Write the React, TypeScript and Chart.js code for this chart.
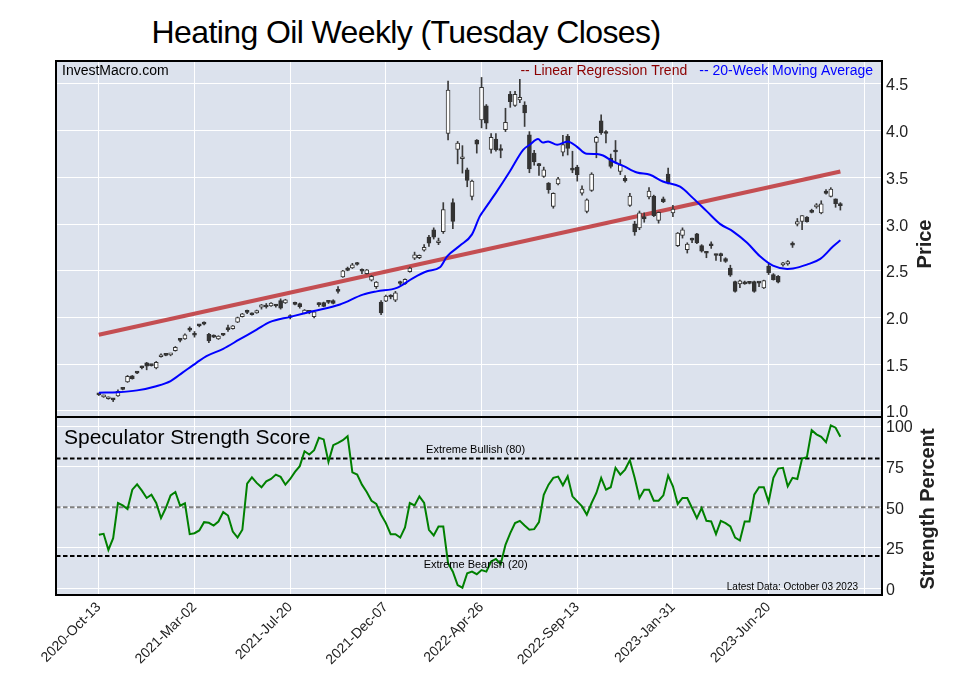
import React, { useEffect, useRef } from 'react';
import { Chart, registerables } from 'chart.js';

Chart.register(...registerables);

const FONT = '"Liberation Sans", Arial, sans-serif';

// ---- Axis labels ----
const dateLabels = ['2020-Oct-13', '2021-Mar-02', '2021-Jul-20', '2021-Dec-07', '2022-Apr-26', '2022-Sep-13', '2023-Jan-31', '2023-Jun-20', ''];
const tickWeeks = [0, 20, 40, 60, 80, 100, 120, 140, 160];
const priceTicks = [1.0, 1.5, 2.0, 2.5, 3.0, 3.5, 4.0, 4.5];
const strengthTicks = [0, 25, 50, 75, 100];

// ---- Weekly candles (week index 0 = 2020-Oct-13) ----
const opens = [
  1.18, 1.15, 1.13, 1.13, 1.16, 1.24, 1.31, 1.375, 1.415, 1.466,
  1.516, 1.49, 1.46, 1.58, 1.60, 1.60, 1.645, 1.765, 1.77, 1.885,
  1.815, 1.915, 1.94, 1.82, 1.81, 1.77, 1.82, 1.89, 1.88, 1.95,
  2.01, 2.058, 2.045, 2.05, 2.11, 2.117, 2.125, 2.127, 2.18, 2.157,
  2.0, 2.16, 2.15, 2.045, 2.058, 2.01, 2.142, 2.16, 2.166, 2.18,
  2.30, 2.435, 2.53, 2.53, 2.572, 2.51, 2.47, 2.40, 2.33, 2.166,
  2.175, 2.24, 2.185, 2.368, 2.36, 2.49, 2.635, 2.64, 2.72, 2.86,
  2.94, 2.80, 2.92, 3.97, 3.23, 3.80, 3.70, 3.58, 3.296, 3.90,
  4.115, 4.265, 3.80, 3.91, 3.792, 4.01, 4.39, 4.27, 4.33, 4.275,
  3.955, 3.76, 3.628, 3.51, 3.44, 3.19, 3.43, 3.77, 3.94, 3.582,
  3.61, 3.33, 3.136, 3.36, 3.875, 4.105, 3.975, 3.706, 3.776, 3.563,
  3.49, 3.20, 3.004, 2.958, 3.08, 3.29, 3.30, 3.04, 3.27, 3.535,
  3.12, 2.77, 2.88, 2.727, 2.832, 2.897, 2.77, 2.692, 2.772, 2.668,
  2.684, 2.63, 2.53, 2.385, 2.36, 2.38, 2.369, 2.385, 2.372, 2.317,
  2.55, 2.46, 2.44, 2.563, 2.574, 2.779, 3.0, 3.03, 3.075, 3.143,
  3.183, 3.12, 3.354, 3.296, 3.27, 3.22,
];
const highs = [
  1.185, 1.17, 1.15, 1.135, 1.225, 1.245, 1.38, 1.38, 1.425, 1.48,
  1.52, 1.495, 1.53, 1.61, 1.605, 1.61, 1.69, 1.77, 1.825, 1.90,
  1.85, 1.925, 1.955, 1.83, 1.815, 1.805, 1.825, 1.92, 1.915, 2.005,
  2.045, 2.08, 2.05, 2.08, 2.14, 2.15, 2.16, 2.14, 2.20, 2.195,
  2.03, 2.165, 2.155, 2.085, 2.07, 2.065, 2.16, 2.165, 2.18, 2.19,
  2.33, 2.505, 2.54, 2.58, 2.59, 2.52, 2.515, 2.45, 2.385, 2.18,
  2.24, 2.245, 2.28, 2.39, 2.415, 2.54, 2.70, 2.67, 2.78, 2.88,
  2.96, 2.85, 3.23, 4.53, 3.27, 3.885, 3.84, 3.60, 3.47, 3.905,
  4.57, 4.28, 3.97, 3.97, 3.85, 4.24, 4.42, 4.42, 4.55, 4.31,
  3.99, 3.79, 3.65, 3.61, 3.445, 3.335, 3.50, 3.95, 3.96, 3.78,
  3.63, 3.41, 3.27, 3.55, 3.94, 4.17, 4.0, 3.75, 3.895, 3.69,
  3.52, 3.33, 3.03, 3.14, 3.12, 3.39, 3.31, 3.13, 3.29, 3.60,
  3.20, 2.91, 2.96, 2.80, 2.85, 2.90, 2.78, 2.70, 2.81, 2.68,
  2.69, 2.64, 2.56, 2.39, 2.40, 2.39, 2.38, 2.39, 2.38, 2.40,
  2.57, 2.47, 2.45, 2.59, 2.61, 2.81, 3.06, 3.09, 3.08, 3.16,
  3.22, 3.25, 3.37, 3.39, 3.27, 3.23,
];
const lows = [
  1.165, 1.145, 1.125, 1.10, 1.155, 1.225, 1.305, 1.34, 1.40, 1.45,
  1.44, 1.48, 1.45, 1.575, 1.59, 1.59, 1.64, 1.74, 1.765, 1.85,
  1.79, 1.90, 1.92, 1.73, 1.785, 1.765, 1.805, 1.85, 1.875, 1.945,
  2.005, 2.04, 2.025, 2.045, 2.09, 2.10, 2.12, 2.11, 2.09, 2.15,
  1.985, 2.135, 2.10, 2.04, 2.04, 1.995, 2.12, 2.115, 2.15, 2.145,
  2.26, 2.43, 2.50, 2.525, 2.56, 2.47, 2.465, 2.39, 2.31, 2.03,
  2.17, 2.20, 2.17, 2.35, 2.355, 2.485, 2.62, 2.63, 2.71, 2.76,
  2.84, 2.78, 2.90, 3.90, 2.95, 3.645, 3.546, 3.40, 3.26, 3.76,
  4.03, 4.02, 3.76, 3.78, 3.71, 3.99, 4.25, 4.26, 4.30, 4.045,
  3.55, 3.63, 3.52, 3.50, 3.33, 3.17, 3.42, 3.73, 3.74, 3.55,
  3.46, 3.31, 3.12, 3.35, 3.71, 3.96, 3.87, 3.60, 3.67, 3.53,
  3.45, 3.19, 2.88, 2.94, 3.02, 3.27, 3.08, 3.01, 3.23, 3.43,
  3.08, 2.76, 2.85, 2.69, 2.80, 2.79, 2.70, 2.64, 2.74, 2.61,
  2.60, 2.59, 2.44, 2.27, 2.32, 2.355, 2.36, 2.27, 2.33, 2.31,
  2.46, 2.40, 2.37, 2.55, 2.56, 2.75, 2.98, 2.94, 3.02, 3.12,
  3.17, 3.11, 3.32, 3.29, 3.18, 3.15,
];
const closes = [
  1.172, 1.165, 1.145, 1.118, 1.21, 1.23, 1.37, 1.345, 1.405, 1.462,
  1.48, 1.485, 1.52, 1.60, 1.595, 1.60, 1.68, 1.755, 1.815, 1.865,
  1.81, 1.91, 1.93, 1.75, 1.79, 1.80, 1.81, 1.87, 1.91, 2.00,
  2.04, 2.055, 2.03, 2.075, 2.135, 2.113, 2.155, 2.123, 2.10, 2.19,
  2.01, 2.14, 2.115, 2.08, 2.055, 2.06, 2.138, 2.12, 2.162, 2.15,
  2.28, 2.50, 2.505, 2.563, 2.568, 2.495, 2.51, 2.44, 2.38, 2.05,
  2.23, 2.22, 2.265, 2.364, 2.41, 2.53, 2.67, 2.665, 2.75, 2.795,
  2.86, 2.82, 3.155, 4.435, 3.03, 3.866, 3.72, 3.467, 3.46, 3.855,
  4.465, 4.08, 3.93, 3.795, 3.788, 4.09, 4.31, 4.39, 4.357, 4.19,
  3.59, 3.665, 3.626, 3.58, 3.368, 3.33, 3.485, 3.85, 3.81, 3.578,
  3.53, 3.375, 3.26, 3.535, 3.93, 3.98, 3.97, 3.617, 3.772, 3.635,
  3.463, 3.30, 2.915, 3.12, 3.055, 3.354, 3.09, 3.125, 3.24, 3.44,
  3.16, 2.905, 2.94, 2.787, 2.828, 2.798, 2.71, 2.688, 2.768, 2.664,
  2.662, 2.60, 2.452, 2.28, 2.392, 2.36, 2.365, 2.28, 2.368, 2.395,
  2.48, 2.406, 2.378, 2.584, 2.60, 2.775, 3.026, 3.09, 3.026, 3.125,
  3.207, 3.218, 3.328, 3.375, 3.22, 3.196,
];

// ---- 20-week moving average (read at these week positions) ----
const maWeeks = [0, 4, 8, 12, 15, 17.5, 20.4, 22.5, 26, 29.4, 33, 35.7, 40, 44.7, 50.4, 55.2, 58.1, 62.3, 65.6, 68.6, 71.3, 72.8, 75.5, 78, 79.6, 80.3, 83.2, 85.9, 88.7, 90.1, 91.8, 92.8, 93.9, 95.8, 98, 99.9, 102, 104.1, 105.4, 107.5, 109.6, 112.5, 115.2, 117.9, 121.5, 124.2, 127.1, 129.9, 132.6, 135.5, 138.2, 140.9, 143.9, 145.1, 148, 150.8, 153.5, 155];
const maValues = [1.195, 1.2, 1.22, 1.265, 1.32, 1.41, 1.515, 1.587, 1.665, 1.765, 1.87, 1.95, 2.007, 2.067, 2.14, 2.245, 2.28, 2.317, 2.42, 2.495, 2.537, 2.655, 2.77, 2.89, 3.08, 3.135, 3.35, 3.563, 3.795, 3.85, 3.91, 3.873, 3.885, 3.85, 3.885, 3.83, 3.752, 3.75, 3.734, 3.67, 3.624, 3.552, 3.528, 3.456, 3.4, 3.278, 3.136, 3.0, 2.92, 2.8, 2.655, 2.555, 2.52, 2.524, 2.566, 2.627, 2.762, 2.826];

// ---- Linear regression trend ----
const trendWeeks = [0, 155];
const trendValues = [1.815, 3.563];

// ---- Speculator strength score ----
const strength = [
  33.0, 33.6, 23.7, 30.9, 52.6, 51.1, 48.9, 60.8, 64.1, 60.2,
  55.7, 57.7, 52.6, 43.3, 49.5, 57.3, 59.4, 50.9, 52.4, 33.4,
  34.0, 35.7, 40.8, 40.4, 38.7, 41.2, 47.0, 44.9, 35.0, 31.3,
  36.1, 64.5, 68.4, 65.0, 62.3, 66.0, 67.4, 70.1, 68.7, 63.9,
  67.4, 71.8, 75.3, 84.5, 82.5, 85.1, 92.8, 91.8, 78.0, 88.2,
  89.7, 91.3, 93.8, 71.5, 70.1, 63.9, 59.4, 54.0, 52.0, 45.4,
  40.2, 33.4, 33.4, 31.3, 37.5, 52.6, 51.1, 56.7, 52.6, 36.1,
  32.6, 38.1, 38.1, 15.5, 10.3, 2.0, 0.4, 9.3, 10.3, 8.7,
  11.3, 10.3, 16.5, 18.1, 14.9, 26.8, 34.0, 40.2, 41.6, 38.7,
  36.1, 36.5, 40.8, 57.7, 63.9, 68.1, 68.9, 63.5, 69.1, 56.7,
  53.6, 50.5, 45.4, 52.6, 58.8, 68.1, 60.8, 62.3, 74.3, 70.1,
  73.2, 79.0, 68.1, 55.7, 60.8, 60.8, 54.0, 54.0, 57.3, 69.5,
  62.9, 52.0, 55.7, 55.7, 49.5, 43.3, 49.5, 41.6, 41.2, 33.4,
  41.6, 40.2, 38.1, 31.3, 29.5, 41.2, 41.2, 57.7, 62.3, 62.3,
  53.2, 68.1, 73.8, 74.3, 62.9, 68.1, 67.4, 80.0, 80.8, 97.5,
  94.9, 93.4, 90.1, 100.4, 99.0, 93.4,
];
const bullishLevel = 80;
const bearishLevel = 20;
const midLevel = 50;

// ---- Styling ----
const X_MIN = -8.95;
const X_MAX = 163.7;
const PANEL_BG = '#dce2ed';
const TICK_COLOR = '#222222';
const CANDLE_DARK = '#333333';

const fillBg = (chart: any) => {
  const { ctx, chartArea: a } = chart;
  ctx.save();
  ctx.fillStyle = PANEL_BG;
  ctx.fillRect(a.left, a.top, a.right - a.left, a.bottom - a.top);
  ctx.restore();
};
const frame = (chart: any) => {
  const { ctx, chartArea: a } = chart;
  ctx.save();
  ctx.strokeStyle = '#000';
  ctx.lineWidth = 2;
  ctx.strokeRect(a.left, a.top, a.right - a.left, a.bottom - a.top);
  ctx.restore();
};

const topDecor = {
  id: 'topDecor',
  beforeDraw: (chart: any) => fillBg(chart),
  afterDraw: (chart: any) => {
    frame(chart);
    const { ctx, chartArea: a } = chart;
    ctx.save();
    ctx.textBaseline = 'middle';
    ctx.font = `14px ${FONT}`;
    ctx.fillStyle = '#000';
    ctx.textAlign = 'left';
    ctx.fillText('InvestMacro.com', a.left + 6, a.top + 10);
    ctx.textAlign = 'right';
    ctx.fillStyle = '#0000ff';
    const maText = '-- 20-Week Moving Average';
    ctx.fillText(maText, a.right - 9, a.top + 10);
    const w = ctx.measureText(maText).width;
    ctx.fillStyle = '#8b0000';
    ctx.fillText('-- Linear Regression Trend', a.right - 9 - w - 12, a.top + 10);
    ctx.translate(925, 244);
    ctx.rotate(-Math.PI / 2);
    ctx.textAlign = 'center';
    ctx.fillStyle = '#222';
    ctx.font = `bold 20px ${FONT}`;
    ctx.fillText('Price', 0, 0);
    ctx.restore();
  },
};

const botDecor = {
  id: 'botDecor',
  beforeDraw: (chart: any) => fillBg(chart),
  afterDraw: (chart: any) => {
    frame(chart);
    const { ctx, chartArea: a, scales } = chart;
    const ys = scales.y;
    ctx.save();
    ctx.textBaseline = 'middle';
    ctx.fillStyle = '#000';
    ctx.font = `21px ${FONT}`;
    ctx.textAlign = 'left';
    ctx.fillText('Speculator Strength Score', a.left + 8, a.top + 21);
    ctx.font = `11px ${FONT}`;
    ctx.textAlign = 'center';
    const cx = a.left + (a.right - a.left) * 0.508;
    ctx.fillText('Extreme Bullish (80)', cx, ys.getPixelForValue(bullishLevel) - 9);
    ctx.fillText('Extreme Bearish (20)', cx, ys.getPixelForValue(bearishLevel) + 9);
    ctx.font = `10px ${FONT}`;
    ctx.textAlign = 'right';
    ctx.fillText('Latest Data: October 03 2023', a.right - 24, a.bottom - 8);
    ctx.translate(928, 93);
    ctx.rotate(-Math.PI / 2);
    ctx.textAlign = 'center';
    ctx.fillStyle = '#222';
    ctx.font = `bold 20px ${FONT}`;
    ctx.fillText('Strength Percent', 0, 0);
    ctx.restore();
  },
};

const xGrid = { color: '#ffffff', lineWidth: 1, drawTicks: false, offset: false };

export default function App() {
  const topRef = useRef<HTMLCanvasElement>(null);
  const botRef = useRef<HTMLCanvasElement>(null);

  useEffect(() => {
    Chart.defaults.font.family = FONT;

    const idx = opens.map((_, i) => i);
    const wickData = idx.map((i) => ({ x: i, y: [lows[i], highs[i]] }));
    const bodyData = idx.map((i) => ({ x: i, y: [opens[i], closes[i]] }));
    const bodyColors = idx.map((i) => (closes[i] >= opens[i] ? '#ffffff' : CANDLE_DARK));

    const top = new Chart(topRef.current as HTMLCanvasElement, {
      type: 'bar',
      data: {
        datasets: [
          {
            type: 'line',
            data: trendWeeks.map((w, i) => ({ x: w, y: trendValues[i] })),
            borderColor: '#c44e52',
            borderWidth: 4,
            pointRadius: 0,
            order: 4,
          } as any,
          {
            type: 'bar',
            data: wickData,
            backgroundColor: '#3a3a3a',
            borderWidth: 0,
            barThickness: 1,
            grouped: false,
            order: 3,
          } as any,
          {
            type: 'bar',
            data: bodyData,
            backgroundColor: bodyColors,
            borderColor: CANDLE_DARK,
            borderWidth: 1,
            borderSkipped: false,
            barThickness: 4,
            minBarLength: 2,
            grouped: false,
            order: 2,
          } as any,
          {
            type: 'line',
            data: maWeeks.map((w, i) => ({ x: w, y: maValues[i] })),
            borderColor: '#0000ff',
            borderWidth: 2,
            pointRadius: 0,
            cubicInterpolationMode: 'monotone',
            order: 1,
          } as any,
        ],
      },
      options: {
        animation: false,
        responsive: false,
        events: [],
        layout: { padding: { left: 56, top: 61, right: 0, bottom: 1 } },
        plugins: { legend: { display: false }, tooltip: { enabled: false }, title: { display: false } },
        scales: {
          x: {
            type: 'linear',
            min: X_MIN,
            max: X_MAX,
            offset: false,
            afterBuildTicks: (s: any) => {
              s.ticks = tickWeeks.map((v) => ({ value: v }));
            },
            ticks: { display: false },
            grid: xGrid,
            border: { display: false },
            afterFit: (s: any) => {
              s.height = 0;
              s.paddingLeft = 0;
              s.paddingRight = 0;
            },
          },
          y: {
            type: 'linear',
            position: 'right',
            min: 0.935,
            max: 4.746,
            afterBuildTicks: (s: any) => {
              s.ticks = priceTicks.map((v) => ({ value: v }));
            },
            ticks: {
              callback: (v: any) => Number(v).toFixed(1),
              font: { size: 16 },
              color: TICK_COLOR,
              padding: 4,
              labelOffset: 2,
            },
            grid: { color: '#ffffff', lineWidth: 1, drawTicks: false, offset: false },
            border: { display: false },
            afterFit: (s: any) => {
              s.width = 75;
              s.paddingTop = 0;
              s.paddingBottom = 0;
            },
          },
        },
      } as any,
      plugins: [topDecor],
    });

    const levelLine = (level: number, color: string) => ({
      type: 'line',
      data: [
        { x: X_MIN, y: level },
        { x: X_MAX, y: level },
      ],
      borderColor: color,
      borderWidth: 2,
      borderDash: [4.5, 2.5],
      pointRadius: 0,
      order: 2,
    });

    const bot = new Chart(botRef.current as HTMLCanvasElement, {
      type: 'line',
      data: {
        datasets: [
          levelLine(bullishLevel, '#000000') as any,
          levelLine(bearishLevel, '#000000') as any,
          levelLine(midLevel, '#808080') as any,
          {
            data: strength.map((v, i) => ({ x: i, y: v })),
            borderColor: '#008000',
            borderWidth: 2,
            pointRadius: 0,
            tension: 0,
            order: 1,
          } as any,
        ],
      },
      options: {
        animation: false,
        responsive: false,
        events: [],
        layout: { padding: { left: 56, top: 1, right: 0, bottom: 0 } },
        plugins: { legend: { display: false }, tooltip: { enabled: false }, title: { display: false } },
        scales: {
          x: {
            type: 'linear',
            min: X_MIN,
            max: X_MAX,
            offset: false,
            afterBuildTicks: (s: any) => {
              s.ticks = tickWeeks.map((v) => ({ value: v }));
            },
            ticks: {
              autoSkip: false,
              minRotation: 45,
              maxRotation: 45,
              font: { size: 14 },
              color: TICK_COLOR,
              padding: 4,
              callback: (v: any) => {
                const k = tickWeeks.indexOf(Number(v));
                return k >= 0 ? dateLabels[k] : '';
              },
            },
            grid: xGrid,
            border: { display: false },
            afterFit: (s: any) => {
              s.height = 99;
              s.paddingLeft = 0;
              s.paddingRight = 0;
            },
          },
          y: {
            type: 'linear',
            position: 'right',
            min: -4.1,
            max: 105.6,
            afterBuildTicks: (s: any) => {
              s.ticks = strengthTicks.map((v) => ({ value: v }));
            },
            ticks: {
              callback: (v: any) => String(v),
              font: { size: 16 },
              color: TICK_COLOR,
              padding: 4,
              labelOffset: 2,
            },
            grid: { color: '#ffffff', lineWidth: 1, drawTicks: false },
            border: { display: false },
            afterFit: (s: any) => {
              s.width = 75;
              s.paddingTop = 0;
              s.paddingBottom = 0;
            },
          },
        },
      } as any,
      plugins: [botDecor],
    });

    return () => {
      top.destroy();
      bot.destroy();
    };
  }, []);

  return (
    <div style={{ position: 'absolute', left: 0, top: 0, width: 957, height: 694, background: '#ffffff', overflow: 'hidden' }}>
      <div
        style={{
          position: 'absolute',
          left: 0,
          top: 12,
          width: 812,
          textAlign: 'center',
          fontFamily: FONT,
          fontSize: 32,
          letterSpacing: '-0.6px',
          lineHeight: '40px',
          color: '#000',
        }}
      >
        Heating Oil Weekly (Tuesday Closes)
      </div>
      <canvas ref={topRef} width={957} height={418} style={{ position: 'absolute', left: 0, top: 0, display: 'block' }} />
      <canvas ref={botRef} width={957} height={278} style={{ position: 'absolute', left: 0, top: 416, display: 'block' }} />
    </div>
  );
}
